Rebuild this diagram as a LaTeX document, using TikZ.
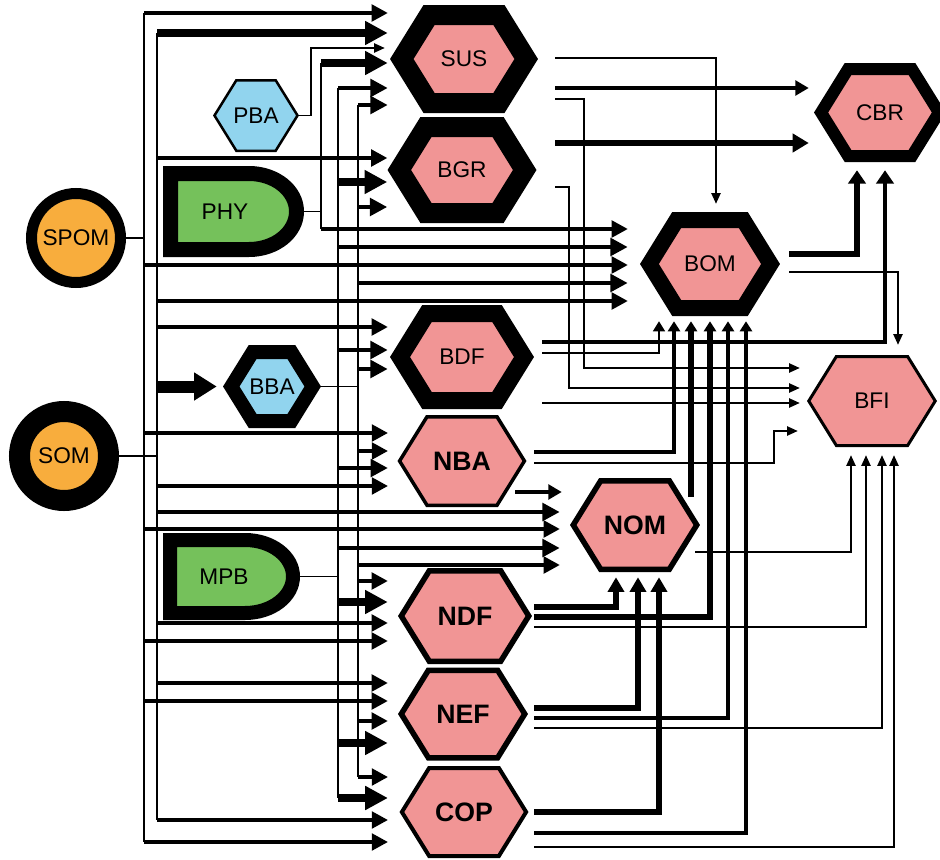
\documentclass[tikz,border=0pt]{standalone}
\usepackage{fontspec}
\setmainfont{Liberation Sans}
\usetikzlibrary{arrows.meta}

\definecolor{poolpink}{RGB}{241,149,149}
\definecolor{poolorange}{RGB}{248,173,61}
\definecolor{poolgreen}{RGB}{117,193,91}
\definecolor{poolblue}{RGB}{145,212,238}

\tikzset{
  nodetext/.style={inner sep=0pt, font=\fontsize{17}{20}\selectfont},
  pool/.style={circle, draw, fill=poolorange, inner sep=0pt, minimum size=66.75pt,
    font=\fontsize{17}{20}\selectfont},
  bus/.style={line width=1.5pt},
  stub/.style={line width=1.1pt},
  thinline/.style={line width=1pt},
  medline/.style={line width=2.4pt},
  thickline/.style={line width=3.8pt},
  thintip/.style={-{Triangle[length=8pt,width=7pt]}},
  midtip/.style={-{Triangle[length=10pt,width=11pt]}},
  bigtip/.style={-{Triangle[length=12pt,width=13.5pt]}},
  smalltip/.style={-{Triangle[length=7.5pt,width=9pt]}},
  uptip/.style={-{Triangle[length=10pt,width=13pt]}},
  nomtip/.style={-{Triangle[length=11pt,width=12pt]}},
  feedmed/.style={line width=2.3pt, -{Triangle[length=12pt,width=12.5pt]}},
  feedthick/.style={line width=3.6pt, -{Triangle[length=13pt,width=13pt]}},
  feedheavy/.style={line width=5.6pt, -{Triangle[length=17pt,width=17pt]}},
  feedhuge/.style={line width=9pt, -{Triangle[length=17pt,width=20pt]}},
}

% hexagon: name, centre x, centre y, half width, half height, border, fill, text
\newcommand{\hexnode}[8]{%
  \pgfmathsetmacro\hxh{#5-#6/2}%
  \pgfmathsetmacro\hxa{#4-0.59*#6}%
  \pgfmathsetmacro\hxb{\hxa-0.62*\hxh}%
  \pgfmathsetmacro\hxw{0.75*#6}%
  \filldraw[fill=#7, line width=\hxw pt, line join=miter]
    (#2-\hxa,#3) -- (#2-\hxb,#3-\hxh) -- (#2+\hxb,#3-\hxh) -- (#2+\hxa,#3)
    -- (#2+\hxb,#3+\hxh) -- (#2-\hxb,#3+\hxh) -- cycle;
  \pgfmathsetmacro\hxw{1.5*#4}%
  \pgfmathsetmacro\hxt{1.5*#5}%
  \node[nodetext, minimum width=\hxw pt, minimum height=\hxt pt] (#1) at (#2,#3) {#8};}
\newcommand{\boldlab}[1]{{\fontsize{20}{24}\selectfont\bfseries #1}}

\begin{document}
\begin{tikzpicture}[x=0.75pt, y=-0.75pt]
\useasboundingbox (0,0) rectangle (940,860);

% pools
\node[pool, line width=8.25pt] (SPOM) at (76,238) {SPOM};
\node[pool, line width=15.75pt] (SOM) at (64,456) {SOM};

% plants
\filldraw[fill=poolgreen, line width=11.25pt, line join=miter]
  (170.5,173.5) -- (249,173.5) arc[start angle=-90, end angle=90, x radius=47.5, y radius=38]
  -- (170.5,249.5) -- cycle;
\node[nodetext, minimum width=118.5pt, minimum height=68pt] (PHY) at (225,211.5) {PHY};
\filldraw[fill=poolgreen, line width=10.5pt, line join=miter]
  (170,540) -- (245,540) arc[start angle=-90, end angle=90, x radius=48, y radius=36.5]
  -- (170,613) -- cycle;
\node[nodetext, minimum width=114pt, minimum height=65pt] (MPB) at (224,576.5) {MPB};

% bacteria and pools as hexagons
\hexnode{PBA}{256}{115.5}{43}{36.5}{2.5}{poolblue}{PBA}
\hexnode{BBA}{272}{386.5}{49}{41.5}{14}{poolblue}{BBA}
\hexnode{SUS}{464}{59}{74}{54}{20}{poolpink}{SUS}
\hexnode{BGR}{462}{170}{74.5}{53}{20}{poolpink}{BGR}
\hexnode{BDF}{462}{357}{72}{52}{17}{poolpink}{BDF}
\hexnode{NBA}{462}{461}{64.5}{46}{3.5}{poolpink}{\boldlab{NBA}}
\hexnode{NDF}{465}{616}{67}{48}{5.5}{poolpink}{\boldlab{NDF}}
\hexnode{NEF}{463}{714}{65}{46.5}{5.5}{poolpink}{\boldlab{NEF}}
\hexnode{COP}{464}{812}{64.5}{46}{4}{poolpink}{\boldlab{COP}}
\hexnode{NOM}{635}{525}{65}{47}{5.5}{poolpink}{\boldlab{NOM}}
\hexnode{BOM}{710}{264}{70}{52}{16}{poolpink}{BOM}
\hexnode{CBR}{880}{112.5}{66}{49.5}{12}{poolpink}{CBR}
\hexnode{BFI}{872}{401}{65}{46}{3}{poolpink}{BFI}

% buses
\coordinate (spombus) at (144,0);
\coordinate (sombus) at (157,0);
\coordinate (phybus) at (321,0);
\coordinate (mpbbus) at (338,0);
\coordinate (bbabus) at (358,0);
\draw[stub] (SPOM) -- (spombus |- SPOM);
\draw[stub] (SOM) -- (sombus |- SOM);
\draw[stub] (PHY.east) -- (phybus |- PHY.east);
\draw[stub] (MPB.east) -- (mpbbus |- MPB.east);
\draw[stub] (BBA.east) -- (bbabus |- BBA.east);
\draw[bus] (spombus |- 0,13) -- (spombus |- 0,842);
\draw[bus] (sombus |- 0,33) -- (sombus |- 0,820);
\draw[bus] (phybus |- 0,63) -- (phybus |- 0,229);
\draw[bus] (mpbbus |- 0,88) -- (mpbbus |- 0,798);
\draw[bus] (bbabus |- 0,105) -- (bbabus |- 0,777);

% feeds from the buses
\foreach \src/\y/\s/\t/\g in {
  spombus/13/feedmed/SUS/1.5, sombus/33/feedheavy/SUS/1.5, phybus/63/feedheavy/SUS/1.5,
  mpbbus/88/feedthick/SUS/1.5, bbabus/105/feedthick/SUS/1.5,
  sombus/158/feedmed/BGR/0, mpbbus/182/feedheavy/BGR/0, bbabus/207/feedthick/BGR/0,
  phybus/229/feedmed/BOM/9, mpbbus/247/feedthick/BOM/9, spombus/265/feedmed/BOM/9,
  bbabus/283/feedthick/BOM/9, sombus/301/feedmed/BOM/9,
  sombus/327/feedmed/BDF/1.5, mpbbus/350/feedthick/BDF/1.5, bbabus/369/feedthick/BDF/1.5,
  spombus/433/feedmed/NBA/7, bbabus/451/feedmed/NBA/7, mpbbus/468/feedthick/NBA/7,
  sombus/486/feedmed/NBA/7,
  sombus/512/feedthick/NOM/7.5, spombus/529/feedmed/NOM/7.5, mpbbus/548/feedthick/NOM/7.5,
  bbabus/565/feedmed/NOM/7.5,
  bbabus/581/feedmed/NDF/7.5, mpbbus/602/feedheavy/NDF/7.5, sombus/623/feedmed/NDF/7.5,
  spombus/641/feedmed/NDF/7.5,
  sombus/683/feedmed/NEF/7.5, spombus/701/feedmed/NEF/7.5, bbabus/721/feedmed/NEF/7.5,
  mpbbus/743/feedheavy/NEF/7.5,
  bbabus/777/feedmed/COP/8.5, mpbbus/798/feedheavy/COP/8.5, sombus/820/feedmed/COP/8.5,
  spombus/842/feedmed/COP/8.5}
  \draw[\s, shorten >=\g pt] (\src |- 0,\y) -- (\t.west |- 0,\y);
\draw[feedhuge, shorten >=4.5pt] (sombus |- BBA) -- (BBA.west);
\draw[thinline, thintip, shorten >=3.75pt] (PBA.east) -- (311,0 |- PBA.east) |- (SUS.west |- 0,48);

% outputs of the upper pools
\draw[thinline, thintip, shorten <=12.75pt, shorten >=6pt] (SUS.east |- 0,58) -| (716,0 |- BOM.north);
\draw[medline, midtip, shorten <=12.75pt, shorten >=3.75pt] (SUS.east |- 0,88) -- (CBR.west |- 0,88);
\draw[thinline, thintip, shorten <=12.75pt, shorten >=5.25pt] (SUS.east |- 0,99) -| (584,368) -- (BFI.west |- 0,368);
\draw[thickline, bigtip, shorten <=13.9pt, shorten >=3.75pt] (BGR.east |- 0,143) -- (CBR.west |- 0,143);
\draw[thinline, thintip, shorten <=13.9pt, shorten >=5.25pt] (BGR.east |- 0,187) -| (569,388) -- (BFI.west |- 0,388);
\draw[thickline, uptip, shorten <=6.75pt, shorten >=6pt] (BOM.east |- 0,254) -| (857,0 |- CBR.south);
\draw[thinline, thintip, shorten <=6.75pt, shorten >=7.5pt] (BOM.east |- 0,272) -| (898,0 |- BFI.north);
\draw[medline, uptip, shorten <=6pt, shorten >=6pt] (BDF.east |- 0,342) -| (885,0 |- CBR.south);
\draw[thinline, smalltip, shorten <=6pt, shorten >=3.75pt] (BDF.east |- 0,353) -| (659,0 |- BOM.south);
\draw[thinline, thintip, shorten <=6pt, shorten >=5.25pt] (BDF.east |- 0,403) -- (BFI.west |- 0,403);

% outputs of the lower pools
\draw[medline, smalltip, shorten <=5.6pt, shorten >=3.75pt] (NBA.east |- 0,452) -| (674,0 |- BOM.south);
\draw[thinline, thintip, shorten <=5.6pt, shorten >=6.75pt] (NBA.east |- 0,463) -| (774,431) -- (BFI.west |- 0,431);
\draw[medline, midtip, shorten <=-8.6pt, shorten >=6pt] (NBA.east |- 0,492) -- (NOM.west |- 0,492);
\draw[thickline, smalltip, shorten <=21pt, shorten >=3.75pt] (691,0 |- NOM.east) -- (691,0 |- BOM.south);
\draw[thinline, thintip, shorten <=-3.75pt, shorten >=6pt] (NOM.east |- 0,552) -| (851,0 |- BFI.south);
\draw[thickline, nomtip, shorten <=1.5pt, shorten >=3.75pt] (NDF.east |- 0,607) -| (616,0 |- NOM.south);
\draw[thickline, smalltip, shorten <=1.5pt, shorten >=3.75pt] (NDF.east |- 0,617) -| (710,0 |- BOM.south);
\draw[thinline, thintip, shorten <=1.5pt, shorten >=6pt] (NDF.east |- 0,627) -| (866,0 |- BFI.south);
\draw[thickline, nomtip, shorten <=4.5pt, shorten >=3.75pt] (NEF.east |- 0,708) -| (638,0 |- NOM.south);
\draw[medline, smalltip, shorten <=4.5pt, shorten >=3.75pt] (NEF.east |- 0,718) -| (728,0 |- BOM.south);
\draw[thinline, thintip, shorten <=4.5pt, shorten >=6pt] (NEF.east |- 0,728) -| (882,0 |- BFI.south);
\draw[thickline, nomtip, shorten <=4.1pt, shorten >=3.75pt] (COP.east |- 0,812) -| (659,0 |- NOM.south);
\draw[medline, smalltip, shorten <=4.1pt, shorten >=3.75pt] (COP.east |- 0,833) -| (746,0 |- BOM.south);
\draw[thinline, thintip, shorten <=4.1pt, shorten >=6pt] (COP.east |- 0,847) -| (894,0 |- BFI.south);
\end{tikzpicture}
\end{document}
